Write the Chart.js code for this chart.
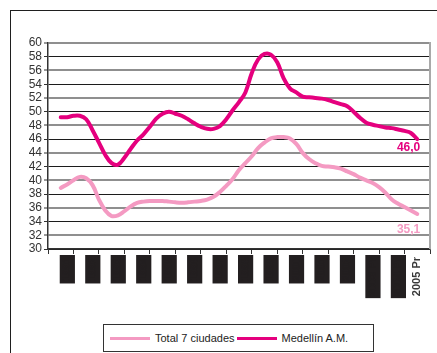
<!DOCTYPE html>
<html>
<head>
<meta charset="utf-8">
<script src="https://cdn.jsdelivr.net/npm/chart.js@4/dist/chart.umd.min.js"></script>
<style>
  html, body { margin: 0; padding: 0; background: #fff; overflow: hidden; width: 437px; height: 353px; }
  #wrap { position: relative; width: 437px; height: 353px; overflow: hidden; }
  #frame { position: absolute; left: 10px; top: 10px; width: 600px; height: 600px; border: 1.5px solid #1f1f1f; }
  #chart { position: absolute; left: 0; top: 0; }
  #legend { position: absolute; left: 103px; top: 324px; width: 271px; height: 28px; box-sizing: border-box;
            border: 1px solid #333; background: #fff; display: flex; align-items: center; padding-left: 6px;
            font: 11px "Liberation Sans", Arial, sans-serif; color: #222; white-space: nowrap; }
  .item { display: flex; align-items: center; margin-right: 2px; }
  .swatch { display: inline-block; width: 40px; height: 3px; margin-right: 5px; }
</style>
</head>
<body>
<div id="wrap">
  <div id="frame"></div>
  <canvas id="chart" width="437" height="353"></canvas>
  <div id="legend"></div>
</div>
<script>
// Year labels on the category axis (last years preliminary)
const years = ['1991', '1992', '1993', '1994', '1995', '1996', '1997', '1998',
               '1999', '2000', '2001', '2002', '2003 Pr', '2004 Pr', '2005 Pr'];

// Quarterly unemployment rate (%), 1991-I to 2005-I
const medellin = [
  49.2, 49.2, 49.4, 49.4, 48.9, 47.3, 45.5, 43.7, 42.5, 42.3,
  43.3, 44.6, 45.8, 46.7, 47.8, 49.0, 49.7, 50.0, 49.7, 49.4,
  48.9, 48.3, 47.8, 47.5, 47.5, 47.9, 48.9, 50.2, 51.4, 52.8,
  55.6, 57.6, 58.4, 58.3, 57.2, 54.9, 53.4, 52.8, 52.2, 52.1,
  52.0, 51.9, 51.7, 51.4, 51.1, 50.8, 50.0, 49.1, 48.4, 48.1,
  47.9, 47.7, 47.6, 47.4, 47.2, 46.9, 46.0
];
const total7 = [
  38.9, 39.4, 40.0, 40.5, 40.3, 39.3, 37.2, 35.6, 34.8, 34.9,
  35.5, 36.2, 36.7, 36.9, 37.0, 37.0, 37.0, 36.9, 36.8, 36.75,
  36.8, 36.9, 37.0, 37.2, 37.6, 38.3, 39.2, 40.2, 41.5, 42.5,
  43.5, 44.7, 45.5, 46.1, 46.3, 46.3, 46.1, 45.3, 44.0, 43.1,
  42.5, 42.1, 42.0, 41.9, 41.7, 41.3, 40.9, 40.4, 40.0, 39.6,
  39.0, 38.2, 37.2, 36.6, 36.1, 35.6, 35.1
];

const seriesNames = ['Total 7 ciudades', 'Medellín A.M.'];
const seriesColors = ['#f49ac2', '#e5007e'];
const FONT = '"Liberation Sans", Arial, sans-serif';

const toPoints = arr => arr.map((v, i) => ({ x: i, y: v }));

// Value of the last quarter written under the end of each line
const endLabels = {
  id: 'endLabels',
  afterDatasetsDraw(chart, args, opts) {
    const ctx = chart.ctx;
    chart.data.datasets.forEach((ds, i) => {
      const meta = chart.getDatasetMeta(i);
      const pt = meta.data[meta.data.length - 1];
      const v = ds.data[ds.data.length - 1].y;
      ctx.save();
      ctx.font = 'bold 12px ' + FONT;
      ctx.fillStyle = ds.borderColor;
      ctx.textAlign = 'right';
      ctx.textBaseline = 'top';
      ctx.fillText(v.toFixed(1).replace('.', ','), pt.x + 3, pt.y + opts.gaps[i]);
      ctx.restore();
    });
  }
};

// Light grey right edge of the plot area
const rightEdge = {
  id: 'rightEdge',
  afterDraw(chart) {
    const { ctx, chartArea: a } = chart;
    ctx.save();
    ctx.strokeStyle = '#a9a9a9';
    ctx.lineWidth = 2;
    ctx.beginPath();
    ctx.moveTo(a.right, a.top - 1);
    ctx.lineTo(a.right, a.bottom);
    ctx.stroke();
    ctx.restore();
  }
};

const chart = new Chart(document.getElementById('chart'), {
  type: 'line',
  data: {
    labels: years,
    datasets: [
      { label: seriesNames[0], data: toPoints(total7), xAxisID: 'xq', borderColor: seriesColors[0],
        borderWidth: 4, pointRadius: 0, tension: 0.4, borderCapStyle: 'round', fill: false },
      { label: seriesNames[1], data: toPoints(medellin), xAxisID: 'xq', borderColor: seriesColors[1],
        borderWidth: 4, pointRadius: 0, tension: 0.4, borderCapStyle: 'round', fill: false }
    ]
  },
  options: {
    responsive: false,
    animation: false,
    devicePixelRatio: 1,
    layout: { padding: { left: 0, top: 43, right: 7, bottom: 0 } },
    plugins: {
      legend: { display: false },
      tooltip: { enabled: false },
      endLabels: { gaps: [10, 3] }
    },
    scales: {
      xq: { type: 'linear', display: false, min: -2, max: 58 },
      x: {
        type: 'category',
        labels: years,
        offset: true,
        grid: { offset: true, drawOnChartArea: false, drawTicks: true, tickLength: 5, color: '#333', tickWidth: 1 },
        border: { color: '#333', width: 1.5 },
        ticks: {
          autoSkip: false, maxRotation: 90, minRotation: 90, padding: 3,
          color: c => c.index === years.length - 1 ? '#3a3a3a' : '#231f20',
          font: { family: FONT, size: 11, weight: 'bold' },
          showLabelBackdrop: c => c.index < years.length - 1,
          backdropColor: '#231f20',
          backdropPadding: { top: 1, bottom: 1, left: 2, right: 2 }
        },
        afterFit: s => { s.height = 104; }
      },
      y: {
        min: 30, max: 60,
        ticks: { stepSize: 2, autoSkip: false, color: '#333', padding: 2, font: { family: FONT, size: 12 } },
        grid: {
          color: c => (c.tick && c.tick.value % 4 === 0) ? '#8f8f8f' : '#1c1c1c',
          lineWidth: c => (c.tick && c.tick.value % 4 === 0) ? 2 : 1,
          tickLength: 4, tickColor: '#333', tickWidth: 1
        },
        border: { color: '#333', width: 1.5 },
        afterFit: s => { s.width = 48; }
      }
    }
  },
  plugins: [endLabels, rightEdge]
});

// Legend built from the datasets
const legend = document.getElementById('legend');
chart.data.datasets.forEach(ds => {
  const item = document.createElement('span');
  item.className = 'item';
  const sw = document.createElement('span');
  sw.className = 'swatch';
  sw.style.background = ds.borderColor;
  item.appendChild(sw);
  item.appendChild(document.createTextNode(ds.label));
  legend.appendChild(item);
});
</script>
</body>
</html>
